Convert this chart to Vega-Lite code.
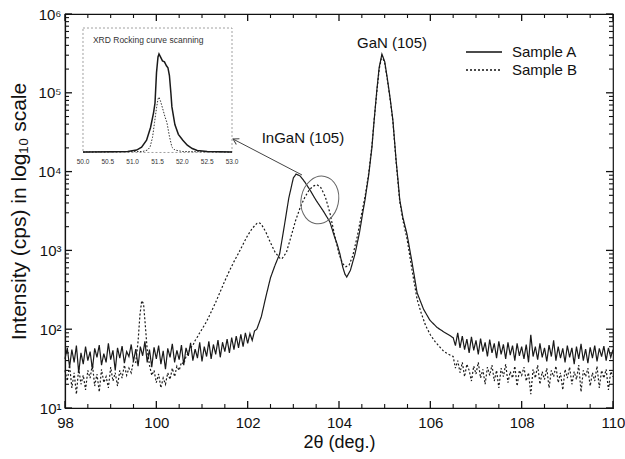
{
  "$schema": "https://vega.github.io/schema/vega-lite/v6.json",
  "width": 548,
  "height": 394,
  "autosize": "none",
  "padding": {"left": 65, "top": 14, "right": 12, "bottom": 51},
  "background": "white",
  "config": {
    "font": "Liberation Sans",
    "view": {"stroke": "#111", "strokeWidth": 1.2},
    "axis": {"domainColor": "#111", "tickColor": "#111", "labelColor": "#111", "titleColor": "#111", "grid": false, "labelFont": "Liberation Sans", "titleFont": "Liberation Sans", "titleFontWeight": "normal", "domainWidth": 1.2}
  },
  "datasets": {
    "xMaj": [{"t":98},{"t":100},{"t":102},{"t":104},{"t":106},{"t":108},{"t":110}],
    "xMin": [{"t":98.5},{"t":99},{"t":99.5},{"t":100.5},{"t":101},{"t":101.5},{"t":102.5},{"t":103},{"t":103.5},{"t":104.5},{"t":105},{"t":105.5},{"t":106.5},{"t":107},{"t":107.5},{"t":108.5},{"t":109},{"t":109.5}],
    "yMaj": [{"t":10},{"t":100},{"t":1000},{"t":10000},{"t":100000},{"t":1000000}],
    "yMin": [{"t":20},{"t":30},{"t":40},{"t":50},{"t":60},{"t":70},{"t":80},{"t":90},{"t":200},{"t":300},{"t":400},{"t":500},{"t":600},{"t":700},{"t":800},{"t":900},{"t":2000},{"t":3000},{"t":4000},{"t":5000},{"t":6000},{"t":7000},{"t":8000},{"t":9000},{"t":20000},{"t":30000},{"t":40000},{"t":50000},{"t":60000},{"t":70000},{"t":80000},{"t":90000},{"t":200000},{"t":300000},{"t":400000},{"t":500000},{"t":600000},{"t":700000},{"t":800000},{"t":900000}],
    "main": [
      {"x":98.00,"v":42,"s":"Sample A"},{"x":98.05,"v":58,"s":"Sample A"},{"x":98.10,"v":33,"s":"Sample A"},{"x":98.15,"v":55,"s":"Sample A"},{"x":98.20,"v":38,"s":"Sample A"},{"x":98.25,"v":62,"s":"Sample A"},{"x":98.30,"v":28,"s":"Sample A"},{"x":98.35,"v":50,"s":"Sample A"},{"x":98.40,"v":36,"s":"Sample A"},{"x":98.45,"v":60,"s":"Sample A"},
      {"x":98.50,"v":40,"s":"Sample A"},{"x":98.55,"v":52,"s":"Sample A"},{"x":98.60,"v":31,"s":"Sample A"},{"x":98.65,"v":57,"s":"Sample A"},{"x":98.70,"v":44,"s":"Sample A"},{"x":98.75,"v":63,"s":"Sample A"},{"x":98.80,"v":35,"s":"Sample A"},{"x":98.85,"v":49,"s":"Sample A"},{"x":98.90,"v":38,"s":"Sample A"},{"x":98.95,"v":66,"s":"Sample A"},
      {"x":99.00,"v":41,"s":"Sample A"},{"x":99.05,"v":54,"s":"Sample A"},{"x":99.10,"v":30,"s":"Sample A"},{"x":99.15,"v":58,"s":"Sample A"},{"x":99.20,"v":43,"s":"Sample A"},{"x":99.25,"v":61,"s":"Sample A"},{"x":99.30,"v":37,"s":"Sample A"},{"x":99.35,"v":52,"s":"Sample A"},{"x":99.40,"v":45,"s":"Sample A"},{"x":99.45,"v":64,"s":"Sample A"},
      {"x":99.50,"v":39,"s":"Sample A"},{"x":99.55,"v":56,"s":"Sample A"},{"x":99.60,"v":34,"s":"Sample A"},{"x":99.65,"v":60,"s":"Sample A"},{"x":99.70,"v":46,"s":"Sample A"},{"x":99.75,"v":70,"s":"Sample A"},{"x":99.80,"v":38,"s":"Sample A"},{"x":99.85,"v":55,"s":"Sample A"},{"x":99.90,"v":33,"s":"Sample A"},{"x":99.95,"v":59,"s":"Sample A"},
      {"x":100.00,"v":42,"s":"Sample A"},{"x":100.05,"v":62,"s":"Sample A"},{"x":100.10,"v":36,"s":"Sample A"},{"x":100.15,"v":53,"s":"Sample A"},{"x":100.20,"v":31,"s":"Sample A"},{"x":100.25,"v":57,"s":"Sample A"},{"x":100.30,"v":44,"s":"Sample A"},{"x":100.35,"v":65,"s":"Sample A"},{"x":100.40,"v":38,"s":"Sample A"},{"x":100.45,"v":54,"s":"Sample A"},
      {"x":100.50,"v":41,"s":"Sample A"},{"x":100.55,"v":63,"s":"Sample A"},{"x":100.60,"v":35,"s":"Sample A"},{"x":100.65,"v":58,"s":"Sample A"},{"x":100.70,"v":46,"s":"Sample A"},{"x":100.75,"v":67,"s":"Sample A"},{"x":100.80,"v":40,"s":"Sample A"},{"x":100.85,"v":56,"s":"Sample A"},{"x":100.90,"v":43,"s":"Sample A"},{"x":100.95,"v":68,"s":"Sample A"},
      {"x":101.00,"v":39,"s":"Sample A"},{"x":101.05,"v":60,"s":"Sample A"},{"x":101.10,"v":45,"s":"Sample A"},{"x":101.15,"v":70,"s":"Sample A"},{"x":101.20,"v":42,"s":"Sample A"},{"x":101.25,"v":64,"s":"Sample A"},{"x":101.30,"v":48,"s":"Sample A"},{"x":101.35,"v":73,"s":"Sample A"},{"x":101.40,"v":44,"s":"Sample A"},{"x":101.45,"v":68,"s":"Sample A"},
      {"x":101.50,"v":52,"s":"Sample A"},{"x":101.55,"v":75,"s":"Sample A"},{"x":101.60,"v":50,"s":"Sample A"},{"x":101.65,"v":78,"s":"Sample A"},{"x":101.70,"v":55,"s":"Sample A"},{"x":101.75,"v":82,"s":"Sample A"},{"x":101.80,"v":58,"s":"Sample A"},{"x":101.85,"v":86,"s":"Sample A"},{"x":101.90,"v":60,"s":"Sample A"},{"x":101.95,"v":90,"s":"Sample A"},
      {"x":102.00,"v":66,"s":"Sample A"},{"x":102.05,"v":88,"s":"Sample A"},{"x":102.10,"v":72,"s":"Sample A"},{"x":102.15,"v":95,"s":"Sample A"},{"x":102.20,"v":100,"s":"Sample A"},{"x":102.25,"v":120,"s":"Sample A"},{"x":102.30,"v":145,"s":"Sample A"},{"x":102.40,"v":260,"s":"Sample A"},{"x":102.50,"v":450,"s":"Sample A"},{"x":102.60,"v":650,"s":"Sample A"},
      {"x":102.70,"v":900,"s":"Sample A"},{"x":102.80,"v":2000,"s":"Sample A"},{"x":102.90,"v":4600,"s":"Sample A"},{"x":103.00,"v":8300,"s":"Sample A"},{"x":103.06,"v":9300,"s":"Sample A"},{"x":103.15,"v":8800,"s":"Sample A"},{"x":103.25,"v":7400,"s":"Sample A"},{"x":103.36,"v":5900,"s":"Sample A"},{"x":103.50,"v":4300,"s":"Sample A"},{"x":103.65,"v":3200,"s":"Sample A"},
      {"x":103.80,"v":2300,"s":"Sample A"},{"x":103.90,"v":1500,"s":"Sample A"},{"x":103.96,"v":1200,"s":"Sample A"},{"x":104.02,"v":900,"s":"Sample A"},{"x":104.08,"v":620,"s":"Sample A"},{"x":104.13,"v":500,"s":"Sample A"},{"x":104.17,"v":460,"s":"Sample A"},{"x":104.25,"v":560,"s":"Sample A"},{"x":104.35,"v":900,"s":"Sample A"},{"x":104.45,"v":1700,"s":"Sample A"},
      {"x":104.52,"v":3000,"s":"Sample A"},{"x":104.57,"v":4400,"s":"Sample A"},{"x":104.65,"v":9000,"s":"Sample A"},{"x":104.72,"v":20000,"s":"Sample A"},{"x":104.77,"v":45000,"s":"Sample A"},{"x":104.83,"v":110000,"s":"Sample A"},{"x":104.88,"v":210000,"s":"Sample A"},{"x":104.94,"v":310000,"s":"Sample A"},{"x":105.00,"v":250000,"s":"Sample A"},{"x":105.06,"v":150000,"s":"Sample A"},
      {"x":105.12,"v":85000,"s":"Sample A"},{"x":105.18,"v":45000,"s":"Sample A"},{"x":105.25,"v":14000,"s":"Sample A"},{"x":105.29,"v":8000,"s":"Sample A"},{"x":105.33,"v":4400,"s":"Sample A"},{"x":105.40,"v":2600,"s":"Sample A"},{"x":105.49,"v":1600,"s":"Sample A"},{"x":105.60,"v":700,"s":"Sample A"},{"x":105.71,"v":290,"s":"Sample A"},{"x":105.85,"v":180,"s":"Sample A"},
      {"x":105.99,"v":130,"s":"Sample A"},{"x":106.15,"v":105,"s":"Sample A"},{"x":106.30,"v":92,"s":"Sample A"},{"x":106.40,"v":85,"s":"Sample A"},
      {"x":106.50,"v":78,"s":"Sample A"},{"x":106.55,"v":62,"s":"Sample A"},{"x":106.60,"v":90,"s":"Sample A"},{"x":106.65,"v":58,"s":"Sample A"},{"x":106.70,"v":82,"s":"Sample A"},{"x":106.75,"v":55,"s":"Sample A"},{"x":106.80,"v":75,"s":"Sample A"},{"x":106.85,"v":50,"s":"Sample A"},{"x":106.90,"v":80,"s":"Sample A"},{"x":106.95,"v":54,"s":"Sample A"},
      {"x":107.00,"v":72,"s":"Sample A"},{"x":107.05,"v":48,"s":"Sample A"},{"x":107.10,"v":76,"s":"Sample A"},{"x":107.15,"v":52,"s":"Sample A"},{"x":107.20,"v":68,"s":"Sample A"},{"x":107.25,"v":45,"s":"Sample A"},{"x":107.30,"v":74,"s":"Sample A"},{"x":107.35,"v":50,"s":"Sample A"},{"x":107.40,"v":66,"s":"Sample A"},{"x":107.45,"v":43,"s":"Sample A"},
      {"x":107.50,"v":70,"s":"Sample A"},{"x":107.55,"v":48,"s":"Sample A"},{"x":107.60,"v":64,"s":"Sample A"},{"x":107.65,"v":42,"s":"Sample A"},{"x":107.70,"v":68,"s":"Sample A"},{"x":107.75,"v":47,"s":"Sample A"},{"x":107.80,"v":62,"s":"Sample A"},{"x":107.85,"v":40,"s":"Sample A"},{"x":107.90,"v":66,"s":"Sample A"},{"x":107.95,"v":46,"s":"Sample A"},
      {"x":108.00,"v":60,"s":"Sample A"},{"x":108.05,"v":42,"s":"Sample A"},{"x":108.10,"v":64,"s":"Sample A"},{"x":108.15,"v":38,"s":"Sample A"},{"x":108.20,"v":85,"s":"Sample A"},{"x":108.25,"v":45,"s":"Sample A"},{"x":108.30,"v":60,"s":"Sample A"},{"x":108.35,"v":41,"s":"Sample A"},{"x":108.40,"v":66,"s":"Sample A"},{"x":108.45,"v":44,"s":"Sample A"},
      {"x":108.50,"v":58,"s":"Sample A"},{"x":108.55,"v":39,"s":"Sample A"},{"x":108.60,"v":63,"s":"Sample A"},{"x":108.65,"v":45,"s":"Sample A"},{"x":108.70,"v":72,"s":"Sample A"},{"x":108.75,"v":40,"s":"Sample A"},{"x":108.80,"v":60,"s":"Sample A"},{"x":108.85,"v":43,"s":"Sample A"},{"x":108.90,"v":57,"s":"Sample A"},{"x":108.95,"v":38,"s":"Sample A"},
      {"x":109.00,"v":62,"s":"Sample A"},{"x":109.05,"v":44,"s":"Sample A"},{"x":109.10,"v":58,"s":"Sample A"},{"x":109.15,"v":36,"s":"Sample A"},{"x":109.20,"v":60,"s":"Sample A"},{"x":109.25,"v":42,"s":"Sample A"},{"x":109.30,"v":65,"s":"Sample A"},{"x":109.35,"v":40,"s":"Sample A"},{"x":109.40,"v":56,"s":"Sample A"},{"x":109.45,"v":37,"s":"Sample A"},
      {"x":109.50,"v":59,"s":"Sample A"},{"x":109.55,"v":43,"s":"Sample A"},{"x":109.60,"v":62,"s":"Sample A"},{"x":109.65,"v":39,"s":"Sample A"},{"x":109.70,"v":57,"s":"Sample A"},{"x":109.75,"v":45,"s":"Sample A"},{"x":109.80,"v":61,"s":"Sample A"},{"x":109.85,"v":40,"s":"Sample A"},{"x":109.90,"v":58,"s":"Sample A"},{"x":109.95,"v":44,"s":"Sample A"},{"x":110.00,"v":55,"s":"Sample A"},

      {"x":98.00,"v":30,"s":"Sample B"},{"x":98.05,"v":22,"s":"Sample B"},{"x":98.10,"v":35,"s":"Sample B"},{"x":98.15,"v":18,"s":"Sample B"},{"x":98.20,"v":28,"s":"Sample B"},{"x":98.25,"v":15,"s":"Sample B"},{"x":98.30,"v":32,"s":"Sample B"},{"x":98.35,"v":20,"s":"Sample B"},{"x":98.40,"v":26,"s":"Sample B"},{"x":98.45,"v":17,"s":"Sample B"},
      {"x":98.50,"v":30,"s":"Sample B"},{"x":98.55,"v":24,"s":"Sample B"},{"x":98.60,"v":36,"s":"Sample B"},{"x":98.65,"v":19,"s":"Sample B"},{"x":98.70,"v":27,"s":"Sample B"},{"x":98.75,"v":16,"s":"Sample B"},{"x":98.80,"v":31,"s":"Sample B"},{"x":98.85,"v":21,"s":"Sample B"},{"x":98.90,"v":25,"s":"Sample B"},{"x":98.95,"v":18,"s":"Sample B"},
      {"x":99.00,"v":33,"s":"Sample B"},{"x":99.05,"v":22,"s":"Sample B"},{"x":99.10,"v":28,"s":"Sample B"},{"x":99.15,"v":19,"s":"Sample B"},{"x":99.20,"v":30,"s":"Sample B"},{"x":99.25,"v":24,"s":"Sample B"},{"x":99.30,"v":35,"s":"Sample B"},{"x":99.35,"v":26,"s":"Sample B"},{"x":99.40,"v":32,"s":"Sample B"},{"x":99.45,"v":28,"s":"Sample B"},
      {"x":99.50,"v":40,"s":"Sample B"},{"x":99.55,"v":38,"s":"Sample B"},{"x":99.60,"v":70,"s":"Sample B"},{"x":99.64,"v":150,"s":"Sample B"},{"x":99.68,"v":230,"s":"Sample B"},{"x":99.72,"v":210,"s":"Sample B"},{"x":99.76,"v":110,"s":"Sample B"},{"x":99.80,"v":55,"s":"Sample B"},{"x":99.85,"v":35,"s":"Sample B"},{"x":99.90,"v":26,"s":"Sample B"},
      {"x":99.95,"v":30,"s":"Sample B"},{"x":100.00,"v":21,"s":"Sample B"},{"x":100.05,"v":27,"s":"Sample B"},{"x":100.10,"v":18,"s":"Sample B"},{"x":100.15,"v":24,"s":"Sample B"},{"x":100.20,"v":20,"s":"Sample B"},{"x":100.25,"v":28,"s":"Sample B"},{"x":100.30,"v":23,"s":"Sample B"},{"x":100.35,"v":32,"s":"Sample B"},{"x":100.40,"v":25,"s":"Sample B"},
      {"x":100.45,"v":34,"s":"Sample B"},{"x":100.50,"v":30,"s":"Sample B"},{"x":100.55,"v":38,"s":"Sample B"},{"x":100.60,"v":36,"s":"Sample B"},{"x":100.65,"v":45,"s":"Sample B"},{"x":100.70,"v":50,"s":"Sample B"},{"x":100.75,"v":58,"s":"Sample B"},{"x":100.80,"v":62,"s":"Sample B"},{"x":100.85,"v":72,"s":"Sample B"},{"x":100.90,"v":80,"s":"Sample B"},
      {"x":100.95,"v":90,"s":"Sample B"},{"x":101.00,"v":100,"s":"Sample B"},{"x":101.10,"v":125,"s":"Sample B"},{"x":101.20,"v":165,"s":"Sample B"},{"x":101.30,"v":220,"s":"Sample B"},{"x":101.40,"v":300,"s":"Sample B"},{"x":101.50,"v":410,"s":"Sample B"},{"x":101.60,"v":550,"s":"Sample B"},{"x":101.70,"v":720,"s":"Sample B"},{"x":101.80,"v":920,"s":"Sample B"},
      {"x":101.90,"v":1200,"s":"Sample B"},{"x":102.00,"v":1550,"s":"Sample B"},{"x":102.10,"v":1900,"s":"Sample B"},{"x":102.20,"v":2200,"s":"Sample B"},{"x":102.25,"v":2250,"s":"Sample B"},{"x":102.30,"v":2150,"s":"Sample B"},{"x":102.40,"v":1700,"s":"Sample B"},{"x":102.50,"v":1250,"s":"Sample B"},{"x":102.60,"v":950,"s":"Sample B"},{"x":102.70,"v":800,"s":"Sample B"},
      {"x":102.75,"v":780,"s":"Sample B"},{"x":102.85,"v":950,"s":"Sample B"},{"x":102.95,"v":1500,"s":"Sample B"},{"x":103.05,"v":2400,"s":"Sample B"},{"x":103.15,"v":3500,"s":"Sample B"},{"x":103.25,"v":4700,"s":"Sample B"},{"x":103.35,"v":5900,"s":"Sample B"},{"x":103.45,"v":6600,"s":"Sample B"},{"x":103.52,"v":6800,"s":"Sample B"},{"x":103.60,"v":6300,"s":"Sample B"},
      {"x":103.70,"v":4800,"s":"Sample B"},{"x":103.80,"v":3000,"s":"Sample B"},{"x":103.90,"v":1600,"s":"Sample B"},{"x":104.00,"v":900,"s":"Sample B"},{"x":104.08,"v":680,"s":"Sample B"},{"x":104.15,"v":620,"s":"Sample B"},{"x":104.22,"v":650,"s":"Sample B"},{"x":104.30,"v":850,"s":"Sample B"},{"x":104.40,"v":1500,"s":"Sample B"},{"x":104.50,"v":3000,"s":"Sample B"},
      {"x":104.57,"v":4800,"s":"Sample B"},{"x":104.65,"v":9500,"s":"Sample B"},{"x":104.72,"v":21000,"s":"Sample B"},{"x":104.77,"v":46000,"s":"Sample B"},{"x":104.83,"v":105000,"s":"Sample B"},{"x":104.88,"v":200000,"s":"Sample B"},{"x":104.94,"v":295000,"s":"Sample B"},{"x":105.00,"v":240000,"s":"Sample B"},{"x":105.06,"v":145000,"s":"Sample B"},{"x":105.12,"v":82000,"s":"Sample B"},
      {"x":105.18,"v":43000,"s":"Sample B"},{"x":105.25,"v":13500,"s":"Sample B"},{"x":105.29,"v":7600,"s":"Sample B"},{"x":105.33,"v":4200,"s":"Sample B"},{"x":105.40,"v":2400,"s":"Sample B"},{"x":105.49,"v":1400,"s":"Sample B"},{"x":105.60,"v":560,"s":"Sample B"},{"x":105.71,"v":240,"s":"Sample B"},{"x":105.80,"v":160,"s":"Sample B"},{"x":105.90,"v":110,"s":"Sample B"},
      {"x":106.00,"v":85,"s":"Sample B"},{"x":106.10,"v":70,"s":"Sample B"},{"x":106.20,"v":60,"s":"Sample B"},{"x":106.30,"v":52,"s":"Sample B"},{"x":106.40,"v":48,"s":"Sample B"},
      {"x":106.50,"v":45,"s":"Sample B"},{"x":106.55,"v":32,"s":"Sample B"},{"x":106.60,"v":40,"s":"Sample B"},{"x":106.65,"v":28,"s":"Sample B"},{"x":106.70,"v":38,"s":"Sample B"},{"x":106.75,"v":25,"s":"Sample B"},{"x":106.80,"v":36,"s":"Sample B"},{"x":106.85,"v":30,"s":"Sample B"},{"x":106.90,"v":22,"s":"Sample B"},{"x":106.95,"v":34,"s":"Sample B"},
      {"x":107.00,"v":27,"s":"Sample B"},{"x":107.05,"v":38,"s":"Sample B"},{"x":107.10,"v":24,"s":"Sample B"},{"x":107.15,"v":31,"s":"Sample B"},{"x":107.20,"v":20,"s":"Sample B"},{"x":107.25,"v":33,"s":"Sample B"},{"x":107.30,"v":26,"s":"Sample B"},{"x":107.35,"v":35,"s":"Sample B"},{"x":107.40,"v":22,"s":"Sample B"},{"x":107.45,"v":30,"s":"Sample B"},
      {"x":107.50,"v":18,"s":"Sample B"},{"x":107.55,"v":32,"s":"Sample B"},{"x":107.60,"v":25,"s":"Sample B"},{"x":107.65,"v":36,"s":"Sample B"},{"x":107.70,"v":21,"s":"Sample B"},{"x":107.75,"v":29,"s":"Sample B"},{"x":107.80,"v":24,"s":"Sample B"},{"x":107.85,"v":34,"s":"Sample B"},{"x":107.90,"v":19,"s":"Sample B"},{"x":107.95,"v":30,"s":"Sample B"},
      {"x":108.00,"v":26,"s":"Sample B"},{"x":108.05,"v":33,"s":"Sample B"},{"x":108.10,"v":22,"s":"Sample B"},{"x":108.15,"v":28,"s":"Sample B"},{"x":108.20,"v":15,"s":"Sample B"},{"x":108.25,"v":31,"s":"Sample B"},{"x":108.30,"v":24,"s":"Sample B"},{"x":108.35,"v":35,"s":"Sample B"},{"x":108.40,"v":20,"s":"Sample B"},{"x":108.45,"v":29,"s":"Sample B"},
      {"x":108.50,"v":23,"s":"Sample B"},{"x":108.55,"v":32,"s":"Sample B"},{"x":108.60,"v":18,"s":"Sample B"},{"x":108.65,"v":30,"s":"Sample B"},{"x":108.70,"v":25,"s":"Sample B"},{"x":108.75,"v":34,"s":"Sample B"},{"x":108.80,"v":21,"s":"Sample B"},{"x":108.85,"v":28,"s":"Sample B"},{"x":108.90,"v":17,"s":"Sample B"},{"x":108.95,"v":31,"s":"Sample B"},
      {"x":109.00,"v":24,"s":"Sample B"},{"x":109.05,"v":33,"s":"Sample B"},{"x":109.10,"v":20,"s":"Sample B"},{"x":109.15,"v":29,"s":"Sample B"},{"x":109.20,"v":23,"s":"Sample B"},{"x":109.25,"v":35,"s":"Sample B"},{"x":109.30,"v":16,"s":"Sample B"},{"x":109.35,"v":30,"s":"Sample B"},{"x":109.40,"v":25,"s":"Sample B"},{"x":109.45,"v":32,"s":"Sample B"},
      {"x":109.50,"v":19,"s":"Sample B"},{"x":109.55,"v":28,"s":"Sample B"},{"x":109.60,"v":22,"s":"Sample B"},{"x":109.65,"v":34,"s":"Sample B"},{"x":109.70,"v":18,"s":"Sample B"},{"x":109.75,"v":30,"s":"Sample B"},{"x":109.80,"v":24,"s":"Sample B"},{"x":109.85,"v":31,"s":"Sample B"},{"x":109.90,"v":17,"s":"Sample B"},{"x":109.95,"v":29,"s":"Sample B"},{"x":110.00,"v":25,"s":"Sample B"}
    ],
    "labels": [
      {"x": 105.16, "v": 427000, "t": "GaN (105)"},
      {"x": 103.21, "v": 26900, "t": "InGaN (105)"}
    ],
    "arrow": [
      {"x": 103.19, "v": 9060, "x2": 101.68, "v2": 25900}
    ],
    "ellipse": [
      {"x": 103.58, "v": 4370}
    ],
    "inset": [
      {"ix":50.0,"iv":0.0,"s":"A"},{"ix":50.6,"iv":0.002,"s":"A"},{"ix":50.9,"iv":0.006,"s":"A"},{"ix":51.08,"iv":0.02,"s":"A"},{"ix":51.18,"iv":0.05,"s":"A"},{"ix":51.28,"iv":0.12,"s":"A"},{"ix":51.36,"iv":0.25,"s":"A"},{"ix":51.42,"iv":0.4,"s":"A"},{"ix":51.45,"iv":0.5,"s":"A"},{"ix":51.48,"iv":0.81,"s":"A"},
      {"ix":51.51,"iv":0.97,"s":"A"},{"ix":51.53,"iv":1.0,"s":"A"},{"ix":51.56,"iv":0.97,"s":"A"},{"ix":51.60,"iv":0.93,"s":"A"},{"ix":51.64,"iv":0.92,"s":"A"},{"ix":51.68,"iv":0.88,"s":"A"},{"ix":51.71,"iv":0.86,"s":"A"},{"ix":51.74,"iv":0.78,"s":"A"},{"ix":51.77,"iv":0.6,"s":"A"},{"ix":51.79,"iv":0.46,"s":"A"},
      {"ix":51.85,"iv":0.28,"s":"A"},{"ix":51.92,"iv":0.18,"s":"A"},{"ix":52.01,"iv":0.12,"s":"A"},{"ix":52.1,"iv":0.07,"s":"A"},{"ix":52.2,"iv":0.035,"s":"A"},{"ix":52.3,"iv":0.015,"s":"A"},{"ix":52.5,"iv":0.005,"s":"A"},{"ix":53.0,"iv":0.0,"s":"A"},
      {"ix":50.0,"iv":0.0,"s":"B"},{"ix":51.2,"iv":0.005,"s":"B"},{"ix":51.3,"iv":0.02,"s":"B"},{"ix":51.35,"iv":0.05,"s":"B"},{"ix":51.40,"iv":0.15,"s":"B"},{"ix":51.44,"iv":0.30,"s":"B"},{"ix":51.48,"iv":0.45,"s":"B"},{"ix":51.51,"iv":0.54,"s":"B"},{"ix":51.53,"iv":0.56,"s":"B"},{"ix":51.56,"iv":0.52,"s":"B"},
      {"ix":51.60,"iv":0.45,"s":"B"},{"ix":51.65,"iv":0.36,"s":"B"},{"ix":51.69,"iv":0.30,"s":"B"},{"ix":51.74,"iv":0.16,"s":"B"},{"ix":51.79,"iv":0.05,"s":"B"},{"ix":51.85,"iv":0.02,"s":"B"},{"ix":52.0,"iv":0.005,"s":"B"},{"ix":53.0,"iv":0.0,"s":"B"}
    ],
    "insetTicks": [
      {"ix":50.0,"t":"50.0"},{"ix":50.5,"t":"50.5"},{"ix":51.0,"t":"51.0"},{"ix":51.5,"t":"51.5"},{"ix":52.0,"t":"52.0"},{"ix":52.5,"t":"52.5"},{"ix":53.0,"t":"53.0"}
    ]
  },
  "layer": [
    {
      "layer": [
        {
          "data": {"name": "main"},
          "mark": {"type": "line", "strokeWidth": 1.2, "color": "#1a1a1a"},
          "encoding": {
            "x": {"field": "x", "type": "quantitative", "scale": {"domain": [98, 110], "nice": false, "zero": false},
              "axis": {"orient": "bottom", "values": [98,100,102,104,106,108,110], "format": "d", "labelFontSize": 15, "ticks": false, "tickSize": 0, "labelPadding": 7, "title": "2θ (deg.)", "titleFontSize": 18, "titlePadding": 3, "labelFlush": false}},
            "y": {"field": "v", "type": "quantitative", "scale": {"type": "log", "domain": [10, 1000000], "nice": false},
              "axis": {"orient": "left", "values": [10,100,1000,10000,100000,1000000], "labelExpr": "'10' + ['⁰','¹','²','³','⁴','⁵','⁶'][round(log(datum.value)/LN10)]", "labelFontSize": 15, "ticks": false, "tickSize": 0, "labelPadding": 4, "title": "Intensity (cps) in log₁₀ scale", "titleFontSize": 21, "titlePadding": 8, "labelFlush": false}},
            "strokeDash": {"field": "s", "type": "nominal", "scale": {"domain": ["Sample A", "Sample B"], "range": [[1, 0], [2, 2]]},
              "legend": {"title": null, "orient": "none", "legendX": 400, "legendY": 29, "symbolType": "stroke", "symbolSize": 1296, "symbolStrokeWidth": 1.4, "symbolStrokeColor": "#111", "labelFontSize": 15, "labelColor": "#111", "clipHeight": 18, "rowPadding": 0, "labelOffset": 9, "padding": 0}}
          }
        },
        {
          "data": {"name": "xMaj"},
          "mark": {"type": "rule", "color": "#111", "strokeWidth": 1.3},
          "encoding": {
            "x": {"field": "t", "type": "quantitative", "scale": {"domain": [98, 110], "nice": false, "zero": false}, "axis": null},
            "y": {"datum": 10, "type": "quantitative", "scale": {"type": "log", "domain": [10, 1000000], "nice": false}, "axis": null},
            "y2": {"datum": 12.3}
          }
        },
        {
          "data": {"name": "xMaj"},
          "mark": {"type": "rule", "color": "#111", "strokeWidth": 1.3},
          "encoding": {
            "x": {"field": "t", "type": "quantitative", "scale": {"domain": [98, 110], "nice": false, "zero": false}, "axis": null},
            "y": {"datum": 1000000, "type": "quantitative", "scale": {"type": "log", "domain": [10, 1000000], "nice": false}, "axis": null},
            "y2": {"datum": 813000}
          }
        },
        {
          "data": {"name": "xMin"},
          "mark": {"type": "rule", "color": "#111", "strokeWidth": 1.1},
          "encoding": {
            "x": {"field": "t", "type": "quantitative", "scale": {"domain": [98, 110], "nice": false, "zero": false}, "axis": null},
            "y": {"datum": 10, "type": "quantitative", "scale": {"type": "log", "domain": [10, 1000000], "nice": false}, "axis": null},
            "y2": {"datum": 11.25}
          }
        },
        {
          "data": {"name": "xMin"},
          "mark": {"type": "rule", "color": "#111", "strokeWidth": 1.1},
          "encoding": {
            "x": {"field": "t", "type": "quantitative", "scale": {"domain": [98, 110], "nice": false, "zero": false}, "axis": null},
            "y": {"datum": 1000000, "type": "quantitative", "scale": {"type": "log", "domain": [10, 1000000], "nice": false}, "axis": null},
            "y2": {"datum": 889000}
          }
        },
        {
          "data": {"name": "yMaj"},
          "mark": {"type": "rule", "color": "#111", "strokeWidth": 1.3},
          "encoding": {
            "y": {"field": "t", "type": "quantitative", "scale": {"type": "log", "domain": [10, 1000000], "nice": false}, "axis": null},
            "x": {"datum": 98, "type": "quantitative", "scale": {"domain": [98, 110], "nice": false, "zero": false}, "axis": null},
            "x2": {"datum": 98.153}
          }
        },
        {
          "data": {"name": "yMaj"},
          "mark": {"type": "rule", "color": "#111", "strokeWidth": 1.3},
          "encoding": {
            "y": {"field": "t", "type": "quantitative", "scale": {"type": "log", "domain": [10, 1000000], "nice": false}, "axis": null},
            "x": {"datum": 110, "type": "quantitative", "scale": {"domain": [98, 110], "nice": false, "zero": false}, "axis": null},
            "x2": {"datum": 109.847}
          }
        },
        {
          "data": {"name": "yMin"},
          "mark": {"type": "rule", "color": "#111", "strokeWidth": 1.1},
          "encoding": {
            "y": {"field": "t", "type": "quantitative", "scale": {"type": "log", "domain": [10, 1000000], "nice": false}, "axis": null},
            "x": {"datum": 98, "type": "quantitative", "scale": {"domain": [98, 110], "nice": false, "zero": false}, "axis": null},
            "x2": {"datum": 98.088}
          }
        },
        {
          "data": {"name": "yMin"},
          "mark": {"type": "rule", "color": "#111", "strokeWidth": 1.1},
          "encoding": {
            "y": {"field": "t", "type": "quantitative", "scale": {"type": "log", "domain": [10, 1000000], "nice": false}, "axis": null},
            "x": {"datum": 110, "type": "quantitative", "scale": {"domain": [98, 110], "nice": false, "zero": false}, "axis": null},
            "x2": {"datum": 109.912}
          }
        },
        {
          "data": {"name": "labels"},
          "mark": {"type": "text", "fontSize": 15, "color": "#111"},
          "encoding": {
            "x": {"field": "x", "type": "quantitative", "scale": {"domain": [98, 110], "nice": false, "zero": false}, "axis": null},
            "y": {"field": "v", "type": "quantitative", "scale": {"type": "log", "domain": [10, 1000000], "nice": false}, "axis": null},
            "text": {"field": "t"}
          }
        },
        {
          "data": {"name": "arrow"},
          "mark": {"type": "rule", "color": "#444", "strokeWidth": 1},
          "encoding": {
            "x": {"field": "x", "type": "quantitative", "scale": {"domain": [98, 110], "nice": false, "zero": false}, "axis": null},
            "x2": {"field": "x2"},
            "y": {"field": "v", "type": "quantitative", "scale": {"type": "log", "domain": [10, 1000000], "nice": false}, "axis": null},
            "y2": {"field": "v2"}
          }
        },
        {
          "data": {"name": "arrow"},
          "mark": {"type": "point", "shape": "M-0.6,1L0,0L0.6,1", "filled": false, "color": "#444", "strokeWidth": 1, "size": 120, "angle": -62, "opacity": 1},
          "encoding": {
            "x": {"field": "x2", "type": "quantitative", "scale": {"domain": [98, 110], "nice": false, "zero": false}, "axis": null},
            "y": {"field": "v2", "type": "quantitative", "scale": {"type": "log", "domain": [10, 1000000], "nice": false}, "axis": null}
          }
        },
        {
          "data": {"name": "ellipse"},
          "mark": {"type": "point", "shape": "M-0.78,0A0.78,1,0,1,0,0.78,0A0.78,1,0,1,0,-0.78,0Z", "filled": false, "color": "#666", "strokeWidth": 1, "size": 2304, "angle": 12, "opacity": 1},
          "encoding": {
            "x": {"field": "x", "type": "quantitative", "scale": {"domain": [98, 110], "nice": false, "zero": false}, "axis": null},
            "y": {"field": "v", "type": "quantitative", "scale": {"type": "log", "domain": [10, 1000000], "nice": false}, "axis": null}
          }
        }
      ],
      "resolve": {"axis": {"x": "independent", "y": "independent"}}
    },
    {
      "layer": [
        {
          "data": {"values": [{"a": 1}]},
          "mark": {"type": "rect", "fillOpacity": 0, "stroke": "#888", "strokeDash": [2, 2], "strokeWidth": 0.8},
          "encoding": {
            "x": {"datum": 50, "type": "quantitative", "scale": {"domain": [49.6376, 60.671], "nice": false, "zero": false}, "axis": null},
            "x2": {"datum": 53},
            "y": {"datum": -0.005, "type": "quantitative", "scale": {"domain": [-2.612, 1.408], "nice": false, "zero": false}, "axis": null},
            "y2": {"datum": 1.265}
          }
        },
        {
          "data": {"name": "inset"},
          "transform": [{"filter": "datum.s == 'B'"}],
          "mark": {"type": "line", "strokeWidth": 1, "strokeDash": [1.5, 1.5], "color": "#333"},
          "encoding": {
            "x": {"field": "ix", "type": "quantitative", "scale": {"domain": [49.6376, 60.671], "nice": false, "zero": false}, "axis": null},
            "y": {"field": "iv", "type": "quantitative", "scale": {"domain": [-2.612, 1.408], "nice": false, "zero": false}, "axis": null}
          }
        },
        {
          "data": {"name": "inset"},
          "transform": [{"filter": "datum.s == 'A'"}],
          "mark": {"type": "line", "strokeWidth": 1.5, "color": "#1a1a1a"},
          "encoding": {
            "x": {"field": "ix", "type": "quantitative", "scale": {"domain": [49.6376, 60.671], "nice": false, "zero": false}, "axis": null},
            "y": {"field": "iv", "type": "quantitative", "scale": {"domain": [-2.612, 1.408], "nice": false, "zero": false}, "axis": null}
          }
        },
        {
          "data": {"name": "insetTicks"},
          "mark": {"type": "text", "fontSize": 6.5, "color": "#333", "baseline": "middle"},
          "encoding": {
            "x": {"field": "ix", "type": "quantitative", "scale": {"domain": [49.6376, 60.671], "nice": false, "zero": false}, "axis": null},
            "y": {"datum": -0.1, "type": "quantitative", "scale": {"domain": [-2.612, 1.408], "nice": false, "zero": false}, "axis": null},
            "text": {"field": "t"}
          }
        },
        {
          "data": {"values": [{"t": "XRD Rocking curve scanning"}]},
          "mark": {"type": "text", "fontSize": 8.5, "color": "#333", "align": "left", "baseline": "middle"},
          "encoding": {
            "x": {"datum": 50.2, "type": "quantitative", "scale": {"domain": [49.6376, 60.671], "nice": false, "zero": false}, "axis": null},
            "y": {"datum": 1.143, "type": "quantitative", "scale": {"domain": [-2.612, 1.408], "nice": false, "zero": false}, "axis": null},
            "text": {"field": "t"}
          }
        }
      ]
    }
  ],
  "resolve": {"scale": {"x": "independent", "y": "independent"}}
}
